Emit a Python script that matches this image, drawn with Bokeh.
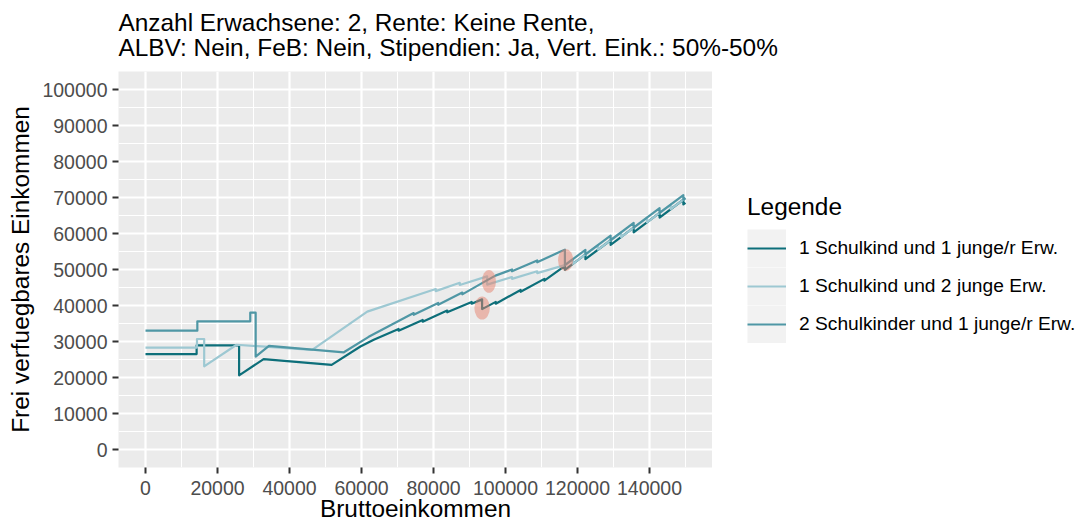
from bokeh.plotting import figure
from bokeh.layouts import column, row
from bokeh.models import Range1d, Legend, LegendItem, Label, FixedTicker, NumeralTickFormatter
from bokeh.embed import file_html
from bokeh.resources import INLINE

# ---------------- data ----------------
title_lines = ["Anzahl Erwachsene: 2, Rente: Keine Rente,",
               "ALBV: Nein, FeB: Nein, Stipendien: Ja, Vert. Eink.: 50%-50%"]
x_title = "Bruttoeinkommen"
y_title = "Frei verfuegbares Einkommen"
legend_title = "Legende"
series_names = ["1 Schulkind und 1 junge/r Erw.",
                "1 Schulkind und 2 junge Erw.",
                "2 Schulkinder und 1 junge/r Erw."]
series_colors = ["#0D6F7A", "#9DC8D2", "#4F97A5"]

x_ticks = [0, 20000, 40000, 60000, 80000, 100000, 120000, 140000]
x_minor = [10000, 30000, 50000, 70000, 90000, 110000, 130000, 150000]
y_ticks = [0, 10000, 20000, 30000, 40000, 50000, 60000, 70000, 80000, 90000, 100000]
y_minor = [5000, 15000, 25000, 35000, 45000, 55000, 65000, 75000, 85000, 95000]

# 1 Schulkind und 1 junge/r Erw.
x1 = [0, 14200, 14200, 26000, 26000, 32800, 51700, 59700, 63400,
      70300, 70300, 77000, 77000, 83800, 83800, 90600, 90600, 93500, 93500,
      97300, 97300, 104200, 104200, 110800, 110800, 116500, 116500,
      122200, 122200, 129200, 129200, 135600, 135600, 142800, 142800,
      149400, 149400, 150000]
y1 = [26500, 26500, 28900, 28900, 20600, 25100, 23500, 28600, 30500,
      33500, 33000, 36000, 35500, 38600, 38100, 41000, 40500, 41700, 39000,
      41000, 40500, 44300, 43800, 47400, 46900, 51000, 49900,
      54175, 52875, 58125, 56825, 61625, 60325, 65725, 64425,
      69375, 68075, 68525]

# 1 Schulkind und 2 junge Erw.
x2 = [0, 14300, 14300, 16300, 16300, 25300, 46300, 61600,
      80600, 80600, 87300, 87300, 94900, 94900, 101800, 101800, 108800, 108800,
      116500, 118700, 118700, 125700, 125700, 132100, 132100, 139300, 139300,
      145900, 145900, 150000]
y2 = [28300, 28300, 30700, 30700, 23100, 29100, 27700, 38300,
      44600, 44000, 46300, 45700, 48100, 45800, 47900, 47400, 49500, 49000,
      51200, 52850, 51550, 56800, 55500, 60300, 59000, 64400, 63100,
      68050, 66750, 69825]

# 2 Schulkinder und 1 junge/r Erw.
x3 = [0, 14400, 14400, 29100, 29100, 30600, 30600, 34300, 55100, 62000,
      74500, 74500, 81300, 81300, 88000, 88000, 94700, 97200,
      101800, 101800, 108800, 108800, 115300, 116500, 116500,
      122200, 122200, 129200, 129200, 135600, 135600, 142800, 142800,
      149400, 149400, 150000]
y3 = [33000, 33000, 35600, 35600, 38000, 38000, 25800, 28800, 27000, 31300,
      37900, 37400, 40700, 40200, 43600, 43100, 46900, 48300,
      50000, 49500, 52500, 52000, 55000, 55500, 51200,
      55475, 54175, 59425, 58125, 62925, 61625, 67025, 65725,
      70675, 69375, 69825]

# highlighted spots (salmon ellipses)
ell_x = [93500, 95400, 116700]
ell_y = [39300, 46700, 52600]
ell_w = [4300, 3900, 4200]
ell_h = [6400, 6400, 6200]

# ---------------- layout constants (pixels) ----------------
W, H = 1081, 524
TOP = 71            # title strip height
FL, FW, FH = 118, 594, 397
PLOT_W = FL + FW
PLOT_H = H - TOP
FONT = "Liberation Sans"
BIG, SMALL = "24.4px", "19.5px"

# ---------------- title strip ----------------
pt = figure(width=W, height=TOP, output_backend="svg", toolbar_location=None,
            x_range=Range1d(0, W), y_range=Range1d(0, TOP),
            x_axis_type=None, y_axis_type=None, min_border=0)
pt.min_border_left = pt.min_border_right = pt.min_border_top = pt.min_border_bottom = 0
pt.grid.visible = False
pt.outline_line_color = None
pt.background_fill_color = "white"
pt.border_fill_color = "white"
for i, line in enumerate(title_lines):
    pt.add_layout(Label(x=FL, y=TOP - 22 - 25 * i, text=line, text_font=FONT,
                        text_font_size=BIG, text_color="black",
                        text_align="left", text_baseline="middle"))

# ---------------- main plot ----------------
p = figure(width=PLOT_W, height=PLOT_H, output_backend="svg", toolbar_location=None,
           x_range=Range1d(-7500, 157500), y_range=Range1d(-5000, 105000),
           min_border_left=FL, min_border_top=0, min_border_right=0,
           min_border_bottom=PLOT_H - FH)
p.background_fill_color = "#EBEBEB"
p.border_fill_color = "white"
p.outline_line_color = None

p.xaxis.ticker = FixedTicker(ticks=x_ticks, minor_ticks=x_minor)
p.yaxis.ticker = FixedTicker(ticks=y_ticks, minor_ticks=y_minor)
p.xaxis.formatter = NumeralTickFormatter(format="0")
p.yaxis.formatter = NumeralTickFormatter(format="0")

for g in (p.xgrid[0], p.ygrid[0]):
    g.grid_line_color = "white"
    g.grid_line_width = 2.2
    g.minor_grid_line_color = "white"
    g.minor_grid_line_width = 1.1

for ax in (p.xaxis[0], p.yaxis[0]):
    ax.axis_line_color = None
    ax.major_tick_line_color = "#333333"
    ax.major_tick_line_width = 2
    ax.major_tick_out = 6
    ax.major_tick_in = 0
    ax.minor_tick_line_color = None
    ax.major_label_text_font = FONT
    ax.major_label_text_font_size = SMALL
    ax.major_label_text_color = "#4D4D4D"
    ax.axis_label_text_font = FONT
    ax.axis_label_text_font_size = BIG
    ax.axis_label_text_font_style = "normal"
    ax.axis_label_text_color = "black"

p.yaxis.major_label_standoff = 5
p.xaxis.major_label_standoff = 7
p.yaxis.axis_label = y_title
p.yaxis.axis_label_standoff = 5
p.xaxis.axis_label = x_title
p.xaxis.axis_label_standoff = -3

lines = []
for xs, ys, col in ((x1, y1, series_colors[0]), (x2, y2, series_colors[1]), (x3, y3, series_colors[2])):
    lines.append(p.line(xs, ys, line_color=col, line_width=2.2, line_join="round"))

p.ellipse(x=ell_x, y=ell_y, width=ell_w, height=ell_h,
          fill_color="#E5826E", fill_alpha=0.5, line_color=None)

# ---------------- legend strip ----------------
LW = W - PLOT_W
pl = figure(width=LW, height=PLOT_H, output_backend="svg", toolbar_location=None,
            x_range=Range1d(0, 1), y_range=Range1d(0, 1),
            x_axis_type=None, y_axis_type=None, min_border=0)
pl.min_border_left = pl.min_border_right = pl.min_border_top = pl.min_border_bottom = 0
pl.grid.visible = False
pl.outline_line_color = None
pl.background_fill_color = "white"
pl.border_fill_color = "white"

# proxies drawn only in the legend (their data lies outside the ranges)
bg = pl.line([-10, -9], [-10, -10], line_color="#F2F2F2", line_width=38, line_cap="butt")
proxies = [pl.line([-10, -9], [-10, -10], line_color=c, line_width=2.2) for c in series_colors]

items = [LegendItem(label=n, renderers=[bg, r]) for n, r in zip(series_names, proxies)]
legend = Legend(items=items, title=legend_title, location=(35, 124),
                glyph_width=39, glyph_height=38, label_height=38, spacing=0,
                padding=0, margin=0, border_line_color=None, background_fill_alpha=0,
                label_standoff=13, label_text_font=FONT,
                label_text_font_size="19.2px", label_text_color="black",
                title_text_font=FONT, title_text_font_size=BIG,
                title_text_font_style="normal", title_text_color="black",
                title_standoff=8)
pl.add_layout(legend)

layout = column(pt, row(p, pl, spacing=0), spacing=0)
open("out.html", "w").write(file_html(layout, INLINE))
